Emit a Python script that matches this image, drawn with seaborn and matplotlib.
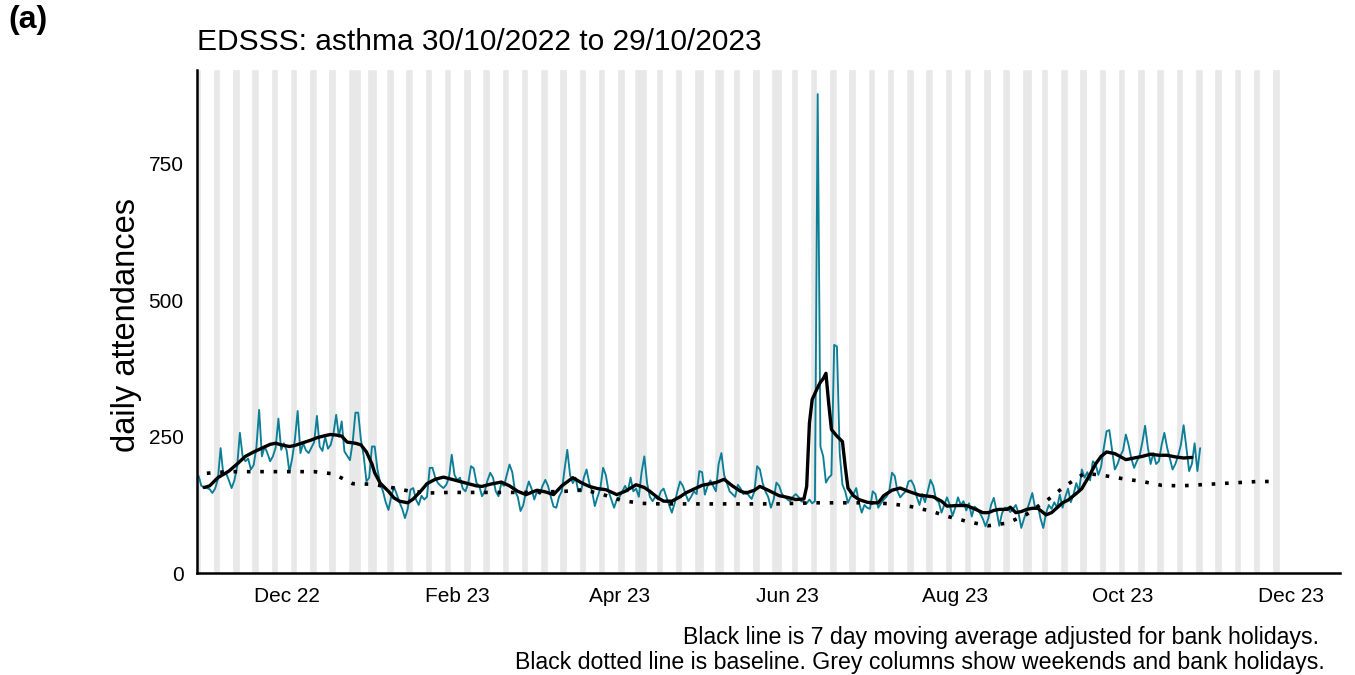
import numpy as np
import pandas as pd
import seaborn as sns
import matplotlib.pyplot as plt
import matplotlib.dates as mdates

# daily attendances from 30/10/2022, one line per week (Sun..Sat)
daily_counts = [
    178, 160, 158, 156, 154, 147, 155,   # 30 Oct
    172, 229, 180, 183, 170, 156, 170,   # 6 Nov
    195, 257, 214, 205, 210, 190, 198,
    230, 299, 214, 232, 220, 205, 214,
    230, 283, 226, 238, 225, 185, 210,
    245, 297, 220, 238, 225, 220, 230,   # 4 Dec
    240, 288, 232, 224, 250, 228, 235,
    255, 290, 250, 278, 223, 215, 207,
    240, 294, 294, 244, 215, 168, 175,
    232, 232, 190, 165, 150, 130, 116,   # 1 Jan
    140, 158, 145, 130, 118, 101, 118,
    153, 156, 135, 125, 142, 135, 140,
    193, 193, 175, 165, 160, 156, 162,
    175, 217, 180, 170, 175, 155, 150,
    165, 196, 192, 165, 160, 141, 150,   # 5 Feb
    170, 184, 175, 150, 141, 165, 160,
    180, 199, 185, 150, 140, 114, 125,
    150, 168, 155, 135, 150, 145, 160,
    171, 160, 140, 122, 120, 140, 150,   # 5 Mar
    190, 226, 180, 165, 175, 150, 150,
    175, 190, 165, 150, 123, 140, 155,
    193, 180, 150, 135, 120, 135, 140,
    150, 160, 150, 175, 150, 155, 140,   # 2 Apr
    185, 214, 165, 140, 132, 140, 135,
    150, 155, 140, 125, 111, 128, 150,
    168, 160, 145, 132, 140, 150, 145,
    187, 185, 144, 160, 170, 160, 150,   # 30 Apr
    200, 220, 180, 165, 150, 145, 140,
    162, 155, 145, 150, 142, 136, 150,
    196, 190, 165, 150, 140, 120, 135,
    166, 160, 145, 140, 135, 132, 140,
    145, 140, 132, 130, 128, 135, 128,   # 4 Jun
    132, 877, 232, 214, 166, 175, 180,
    418, 415, 220, 162, 150, 129, 140,
    145, 156, 130, 111, 125, 120, 118,
    150, 145, 120, 128, 135, 140, 150,   # 2 Jul
    184, 178, 150, 139, 145, 150, 168,
    170, 160, 140, 125, 145, 130, 150,
    171, 160, 135, 130, 111, 125, 139,
    125, 105, 120, 139, 125, 132, 115,
    128, 104, 122, 118, 110, 100, 86,    # 6 Aug
    100, 125, 138, 115, 87, 110, 120,
    120, 112, 118, 125, 110, 83, 100,
    115, 130, 147, 120, 125, 100, 83,
    110, 125, 118, 130, 120, 144, 120,   # 3 Sep
    140, 155, 130, 145, 165, 150, 190,
    175, 185, 170, 205, 200, 180, 195,
    230, 260, 262, 225, 190, 200, 215,
    225, 254, 235, 210, 193, 205, 215,   # 1 Oct
    240, 270, 230, 200, 220, 200, 205,
    235, 257, 230, 210, 190, 200, 215,
    235, 271, 230, 187, 200, 238, 187,
    229,
]
daily_dates = pd.date_range("2022-10-30", periods=len(daily_counts), freq="D")

# 7 day moving average (black line)
ma_dates = [
    "2022-11-01", "2022-11-03", "2022-11-06", "2022-11-10", "2022-11-13", "2022-11-16",
    "2022-11-19", "2022-11-22", "2022-11-25", "2022-11-27", "2022-11-29", "2022-12-02",
    "2022-12-04", "2022-12-07", "2022-12-10", "2022-12-12", "2022-12-15", "2022-12-17",
    "2022-12-19", "2022-12-21", "2022-12-23", "2022-12-26", "2022-12-28", "2022-12-30",
    "2023-01-01", "2023-01-02", "2023-01-04", "2023-01-07", "2023-01-09", "2023-01-11",
    "2023-01-14", "2023-01-16", "2023-01-19", "2023-01-21", "2023-01-24", "2023-01-27",
    "2023-01-30", "2023-02-02", "2023-02-05", "2023-02-08", "2023-02-10", "2023-02-13",
    "2023-02-17", "2023-02-20", "2023-02-23", "2023-02-26", "2023-03-02", "2023-03-05",
    "2023-03-08", "2023-03-11", "2023-03-15", "2023-03-18", "2023-03-21", "2023-03-24",
    "2023-03-27", "2023-03-31", "2023-04-03", "2023-04-07", "2023-04-10", "2023-04-12",
    "2023-04-15", "2023-04-17", "2023-04-20", "2023-04-23", "2023-04-25", "2023-04-28",
    "2023-05-01", "2023-05-04", "2023-05-06", "2023-05-09", "2023-05-12", "2023-05-15",
    "2023-05-17", "2023-05-20", "2023-05-22", "2023-05-25", "2023-05-29", "2023-06-01",
    "2023-06-04", "2023-06-07", "2023-06-08", "2023-06-09", "2023-06-10", "2023-06-12",
    "2023-06-13", "2023-06-14", "2023-06-15", "2023-06-16", "2023-06-17", "2023-06-19",
    "2023-06-21", "2023-06-22", "2023-06-23", "2023-06-25", "2023-06-27", "2023-06-30",
    "2023-07-02", "2023-07-04", "2023-07-06", "2023-07-09", "2023-07-12", "2023-07-15",
    "2023-07-19", "2023-07-24", "2023-07-27", "2023-07-29", "2023-08-02", "2023-08-05",
    "2023-08-08", "2023-08-11", "2023-08-13", "2023-08-15", "2023-08-17", "2023-08-20",
    "2023-08-21", "2023-08-23", "2023-08-25", "2023-08-27", "2023-08-29", "2023-08-31",
    "2023-09-03", "2023-09-05", "2023-09-07", "2023-09-09", "2023-09-11", "2023-09-14",
    "2023-09-16", "2023-09-19", "2023-09-21", "2023-09-23", "2023-09-25", "2023-09-28",
    "2023-10-02", "2023-10-05", "2023-10-08", "2023-10-11", "2023-10-14", "2023-10-17",
    "2023-10-20", "2023-10-23", "2023-10-26",
]
ma_values = [
    157, 160, 175, 187, 200, 214,
    222, 229, 236, 238, 235, 232,
    234, 239, 244, 248, 252, 254,
    253, 251, 240, 238, 235, 222,
    200, 184, 165, 150, 138, 132,
    129, 136, 152, 164, 172, 176,
    172, 168, 164, 160, 159, 163,
    167, 160, 150, 144, 152, 149,
    144, 160, 175, 166, 159, 155,
    153, 144, 150, 162, 157, 150,
    138, 132, 132, 140, 147, 154,
    161, 164, 166, 172, 160, 150,
    147, 152, 159, 152, 142, 139,
    135, 136, 159, 275, 318, 340,
    350, 356, 366, 311, 263, 251,
    241, 196, 156, 142, 135, 130,
    129, 129, 142, 152, 156, 150,
    143, 140, 132, 123, 124, 124,
    118, 111, 111, 115, 117, 117,
    121, 111, 113, 117, 119, 119,
    107, 111, 120, 129, 134, 146,
    155, 181, 200, 214, 222, 219,
    208, 211, 214, 218, 216, 216,
    213, 211, 212,
]

# baseline (dotted line)
base_dates = [
    "2022-11-02", "2022-11-06", "2022-11-13", "2022-11-20", "2022-11-27", "2022-12-04",
    "2022-12-11", "2022-12-18", "2022-12-25", "2023-01-01", "2023-01-08", "2023-01-15",
    "2023-01-22", "2023-01-29", "2023-02-05", "2023-02-12", "2023-02-19", "2023-02-26",
    "2023-03-05", "2023-03-12", "2023-03-19", "2023-03-26", "2023-04-02", "2023-04-09",
    "2023-04-16", "2023-04-23", "2023-04-30", "2023-05-07", "2023-05-14", "2023-05-21",
    "2023-05-28", "2023-06-04", "2023-06-11", "2023-06-18", "2023-06-25", "2023-07-02",
    "2023-07-09", "2023-07-16", "2023-07-23", "2023-07-30", "2023-08-06", "2023-08-13",
    "2023-08-20", "2023-08-27", "2023-09-03", "2023-09-10", "2023-09-17", "2023-09-24",
    "2023-10-01", "2023-10-08", "2023-10-15", "2023-10-22", "2023-10-29", "2023-11-05",
    "2023-11-12", "2023-11-19", "2023-11-24",
]
base_values = [
    183, 185, 186, 186, 186, 186,
    186, 182, 164, 163, 157, 150,
    147, 148, 148, 148, 148, 148,
    149, 150, 153, 144, 133, 128,
    127, 127, 127, 127, 127, 127,
    127, 128, 129, 129, 129, 129,
    127, 122, 114, 103, 94, 87,
    92, 108, 132, 160, 183, 179,
    173, 168, 161, 160, 162, 164,
    166, 168, 168,
]

# grey columns: weekends plus bank holidays
bank_holidays = ["2022-12-26", "2022-12-27", "2023-01-02", "2023-04-07", "2023-04-10",
                 "2023-05-01", "2023-05-08", "2023-05-29", "2023-08-28"]
all_days = pd.date_range("2022-10-29", "2023-11-26", freq="D")
grey_days = all_days[all_days.dayofweek >= 5].union(pd.to_datetime(bank_holidays))

y_ticks = [0, 250, 500, 750]
y_top = 921
TEAL = "#0C7F97"

sns.set_style("white")
plt.rcParams['font.family'] = ['Liberation Sans', 'DejaVu Sans']

fig = plt.figure(figsize=(13.55, 6.75), dpi=100)
ax = fig.add_axes([197/1355, 1-573.3/675, (1340-197)/1355, (573.3-70)/675])

# weekend / bank holiday columns
ax.bar(grey_days, y_top, width=1.0, color="#E8E8E8", edgecolor="#E8E8E8",
       linewidth=0.4, zorder=0)

df_daily = pd.DataFrame({"date": daily_dates, "count": daily_counts})
df_ma = pd.DataFrame({"date": pd.to_datetime(ma_dates), "ma": ma_values})
df_base = pd.DataFrame({"date": pd.to_datetime(base_dates), "base": base_values})

sns.lineplot(data=df_daily, x="date", y="count", ax=ax, color=TEAL, linewidth=1.35,
             estimator=None, zorder=2)
sns.lineplot(data=df_base, x="date", y="base", ax=ax, color="black", linewidth=2.6,
             linestyle=(0, (1, 2.7)), estimator=None, zorder=3)
sns.lineplot(data=df_ma, x="date", y="ma", ax=ax, color="black", linewidth=2.4,
             estimator=None, zorder=4)

ax.set_xlim(pd.Timestamp("2022-10-29 10:00"), pd.Timestamp("2023-12-18 20:00"))
ax.set_ylim(0, y_top)
ax.set_yticks(y_ticks)
ax.xaxis.set_major_locator(mdates.MonthLocator(bymonth=[2, 4, 6, 8, 10, 12]))
ax.xaxis.set_major_formatter(mdates.DateFormatter("%b %y"))
ax.set_xlabel("")
ax.set_ylabel("")

sns.despine(ax=ax)
for side in ["left", "bottom"]:
    ax.spines[side].set_linewidth(1.8)
    ax.spines[side].set_color("black")
ax.tick_params(axis="both", length=4.3, width=1.6, color="black",
               labelsize=15, labelcolor="black", pad=5.5)

fig.text(126/1355, 1-325/675, "daily attendances", rotation=90, ha="center", va="center",
         fontsize=23.5, color="black")
fig.text(197/1355, 1-50/675, "EDSSS: asthma 30/10/2022 to 29/10/2023", ha="left",
         va="baseline", fontsize=21.5, color="black")
fig.text(8/1355, 1-28/675, "(a)", ha="left", va="baseline", fontsize=23,
         fontweight="bold", color="black")
fig.text(1319/1355, 1-644/675, "Black line is 7 day moving average adjusted for bank holidays.",
         ha="right", va="baseline", fontsize=16.7, color="black")
fig.text(1325/1355, 1-669/675,
         "Black dotted line is baseline. Grey columns show weekends and bank holidays.",
         ha="right", va="baseline", fontsize=16.7, color="black")

fig.savefig("out.png", dpi=100)
